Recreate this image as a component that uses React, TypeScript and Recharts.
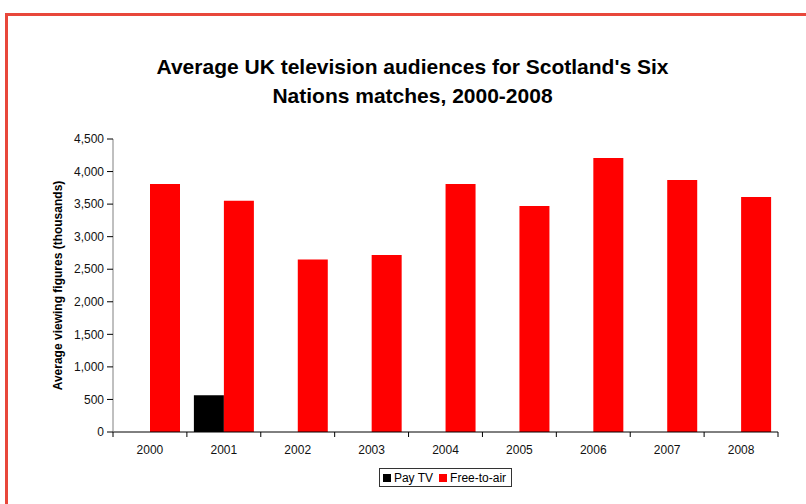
import React from 'react';
import { BarChart, Bar, XAxis, YAxis, Legend } from 'recharts';

const years = ['2000', '2001', '2002', '2003', '2004', '2005', '2006', '2007', '2008'];
const payTV: (number | null)[] = [null, 565, null, null, null, null, null, null, null];
const freeToAir = [3810, 3550, 2650, 2720, 3810, 3470, 4210, 3870, 3610];
const yTicks = [0, 500, 1000, 1500, 2000, 2500, 3000, 3500, 4000, 4500];

const data = years.map((y, i) => ({ year: y, payTV: payTV[i], freeToAir: freeToAir[i] }));

const FONT = '"Liberation Sans", Arial, sans-serif';
const BORDER = '#e8473b';

const XTick = (props: any) => {
  const { x, y, payload, index } = props;
  const off = payload && payload.offset ? payload.offset : 37;
  const last = index === years.length - 1;
  return (
    <g>
      <line x1={x - off} x2={x - off} y1={y} y2={y + 5} stroke="#000" />
      {last && <line x1={x + off} x2={x + off} y1={y} y2={y + 5} stroke="#000" />}
      <text x={x} y={y + 22} textAnchor="middle" fontSize={12} fontFamily={FONT} fill="#111">
        {payload.value}
      </text>
    </g>
  );
};

const YLabel = (props: any) => {
  const { viewBox } = props;
  const cy = viewBox.y + viewBox.height / 2;
  const cx = 59;
  return (
    <text
      x={cx}
      y={cy}
      transform={`rotate(-90, ${cx}, ${cy})`}
      textAnchor="middle"
      dominantBaseline="middle"
      fontSize={12}
      fontWeight="bold"
      fontFamily={FONT}
      fill="#000"
    >
      Average viewing figures (thousands)
    </text>
  );
};

const LegendContent = () => (
  <div style={{ display: 'flex', justifyContent: 'center' }}>
    <div
      style={{
        border: '1px solid #333',
        height: 17,
        display: 'flex',
        alignItems: 'center',
        padding: '0 5px 0 3px',
        fontFamily: FONT,
        fontSize: 12,
        color: '#000',
        boxSizing: 'content-box',
      }}
    >
      <span style={{ width: 8, height: 8, background: '#000', display: 'inline-block', marginRight: 3 }} />
      <span style={{ marginRight: 6 }}>Pay TV</span>
      <span style={{ width: 8, height: 8, background: '#ff0000', display: 'inline-block', marginRight: 3 }} />
      <span>Free-to-air</span>
    </div>
  </div>
);

export default function App() {
  return (
    <div style={{ position: 'absolute', left: 0, top: 0, width: 806, height: 504, background: '#fff', overflow: 'hidden' }}>
      <div
        style={{
          position: 'absolute',
          left: 5,
          top: 13,
          width: 820,
          height: 520,
          borderTop: `3px solid ${BORDER}`,
          borderLeft: `3px solid ${BORDER}`,
          boxSizing: 'border-box',
        }}
      />
      <div
        style={{
          position: 'absolute',
          left: 0,
          top: 52,
          width: 825,
          textAlign: 'center',
          fontFamily: FONT,
          fontWeight: 'bold',
          fontSize: 21,
          lineHeight: '29px',
          color: '#000',
        }}
      >
        Average UK television audiences for Scotland's Six
        <br />
        Nations matches, 2000-2008
      </div>
      <div style={{ position: 'absolute', left: 0, top: 0 }}>
        <BarChart
          width={806}
          height={504}
          data={data}
          margin={{ top: 139, right: 28, left: 53, bottom: 17 }}
          barGap={0}
          barCategoryGap={7}
        >
          <XAxis
            dataKey="year"
            height={36}
            axisLine={{ stroke: '#000' }}
            tickLine={false}
            tickSize={0}
            tickMargin={0}
            tick={<XTick />}
            interval={0}
          />
          <YAxis
            width={60}
            domain={[0, 4500]}
            ticks={yTicks}
            interval={0}
            tickFormatter={(v: number) => v.toLocaleString('en-US')}
            axisLine={{ stroke: '#808080' }}
            tickLine={{ stroke: '#000' }}
            tickSize={6}
            tickMargin={3}
            tick={{ fontSize: 12, fontFamily: FONT, fill: '#111' }}
            label={<YLabel />}
          />
          <Legend
            verticalAlign="bottom"
            height={19}
            content={<LegendContent />}
            wrapperStyle={{ left: 113, width: 665 }}
          />
          <Bar dataKey="payTV" name="Pay TV" fill="#000000" isAnimationActive={false} />
          <Bar dataKey="freeToAir" name="Free-to-air" fill="#ff0000" isAnimationActive={false} />
        </BarChart>
      </div>
    </div>
  );
}
